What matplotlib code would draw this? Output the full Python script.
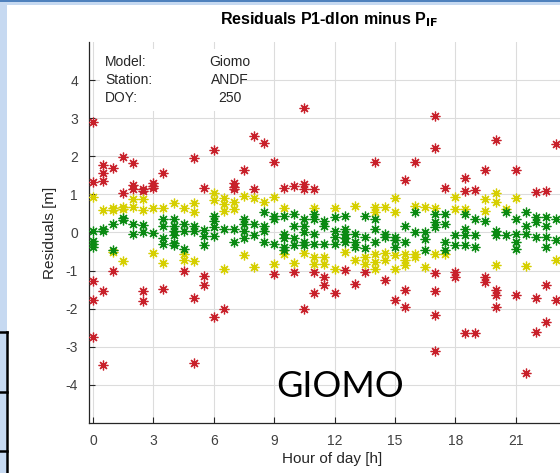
import matplotlib
matplotlib.use("Agg")
import matplotlib.pyplot as plt
from matplotlib.patches import Rectangle
from matplotlib.lines import Line2D

# ---------------- data (hour of day, residual in m) ----------------
red_hours = [0, 0, 0, 0, 0,
             0.5, 0.5, 0.5, 0.5, 0.5,
             1.0, 1.0, 1.5, 1.5,
             2.0, 2.0, 2.0, 2.5, 2.5, 2.5, 2.5,
             3.0, 3.0, 3.0, 3.5, 3.5, 4.5,
             5.0, 5.0, 5.0, 5.5, 5.5, 5.5,
             6.0, 6.0, 6.5, 7.0, 7.0, 7.0, 7.5, 8.0, 8.0, 8.5,
             9.0, 9.0, 9.5, 10.0, 10.0,
             10.5, 10.5, 10.5, 10.5, 11.0, 11.0, 11.0, 11.5, 11.5,
             12.0, 12.5, 13.0, 13.5, 14.0, 14.5,
             15.0, 15.5, 15.5, 15.5, 16.0,
             17.0, 17.0, 17.0, 17.0, 17.0, 17.0, 17.5,
             18.0, 18.0, 18.5, 18.5, 18.5, 19.0, 19.0,
             19.5, 19.5, 19.5, 20.0, 20.0, 20.0, 20.0,
             21.0, 21.0, 21.5, 22.0, 22.0, 22.0, 22.5, 22.5, 22.5,
             23.0, 23.0]
red_vals = [2.9, 1.33, -1.26, -1.78, -2.73,
            1.77, 1.56, 1.36, -1.53, -3.49,
            1.7, -1.01, 1.97, 1.04,
            1.82, 1.25, 1.14, 1.14, 1.08, -1.53, -1.81,
            1.31, 1.23, 1.17, 1.56, -1.47, -1.01,
            1.95, -1.71, -3.43, 1.16, -1.15, -1.38,
            2.17, -2.21, -2.01, 1.31, 1.2, 1.14, 1.64, 2.53, 1.14, 2.34,
            1.84, -1.1, 1.16, 1.21, -1.04,
            3.27, 1.27, 1.14, -2.02, 1.14, -1.04, -1.6, -1.17, -1.38,
            -1.6, -0.99, -1.34, -1.04, 1.84, -1.24,
            -1.78, 1.38, -1.5, -1.95, 1.84,
            3.05, 2.23, -1.06, -1.53, -2.17, -3.1, 1.16,
            -1.04, -1.18, 1.44, 1.08, -2.65, 1.11, -2.65,
            1.64, -1.17, -1.3, 2.42, -1.5, -1.64, -1.96,
            1.64, -1.65, -3.68, 1.05, -1.71, -2.6, 1.08, -1.38, -2.35,
            2.32, -1.78]

yellow_hours = [0, 0.5, 1.0, 1.0, 1.0, 1.5, 1.5, 1.5, 2.0, 2.0, 2.5, 2.5,
                3.0, 3.0, 3.5, 3.5, 4.0, 4.5, 4.5, 4.5, 5.0, 5.0, 5.0,
                6.0, 6.0, 6.5, 6.5, 6.5, 6.5, 7.0, 7.0, 7.5, 7.5, 8.0, 8.0, 8.5,
                9.0, 9.0, 9.5, 9.5, 10.0, 10.5, 11.0, 11.0, 11.0, 11.5, 11.5,
                12.0, 12.0, 12.5, 13.0, 13.0, 13.5, 13.5,
                14.0, 14.0, 14.0, 14.0, 14.0, 14.5, 14.5, 14.5,
                15.0, 15.0, 15.0, 15.0, 15.5, 15.5, 15.5, 16.0, 16.0, 16.0,
                16.5, 16.5, 17.0, 17.0, 17.5, 18.0, 18.0, 18.5,
                19.5, 19.5, 20.0, 20.0, 20.0, 20.5, 21.0, 21.5, 23.0]
yellow_vals = [0.92, 0.59, 0.64, 0.6, -0.51, 0.68, 0.62, -0.75, 0.88, 0.66, 0.89, 0.59,
               0.64, -0.54, 0.64, -0.80, 0.77, 0.64, -0.57, -0.71, 0.77, 0.55, -0.75,
               1.04, 0.85, 0.9, 0.75, 0.57, -0.97, 0.79, 0.62, 0.95, -0.60, 0.9, -0.91, 0.81,
               0.94, -0.82, 0.64, -0.57, -0.8, -0.54, 0.65, -0.64, -0.82, -0.64, -0.82,
               0.65, -0.95, -0.51, 0.7, -0.73, -0.64, -0.82,
               0.68, 0.55, -0.56, -0.78, -0.95, 0.68, -0.53, -0.73,
               0.9, 0.55, -0.6, -0.95, -0.56, -0.73, -0.85, 0.7, -0.56, -0.64,
               0.66, -0.91, 0.64, -0.57, -0.56, 0.92, 0.62, 0.62,
               0.88, 0.57, 1.03, 0.79, -0.84, 0.62, 0.9, -0.88, -0.73]

green_hours = [0, 0, 0, 0, 0.5, 0.5, 1.0, 1.0, 1.5, 1.5, 2.0, 2.0, 2.5, 2.5,
               3.0, 3.5, 3.5, 3.5, 3.5, 4.0, 4.0, 4.0, 4.0, 4.0, 4.0,
               4.5, 4.5, 4.5, 5.0, 5.0, 5.5, 5.5, 5.5,
               6.0, 6.0, 6.0, 6.0, 6.5, 7.0, 7.0, 7.5, 7.5, 7.5, 7.5, 8.0, 8.0,
               8.5, 8.5, 8.5, 8.5, 9.0, 9.0, 9.0, 9.5, 9.5, 9.5, 9.5, 9.5,
               10.0, 10.0, 10.0, 10.0, 10.5, 10.5, 10.5, 10.5, 10.5,
               11.0, 11.0, 11.0, 11.0, 11.5, 11.5, 11.5,
               12.0, 12.0, 12.0, 12.0, 12.5, 12.5, 12.5, 12.5, 12.5,
               13.0, 13.0, 13.0, 13.5, 13.5, 13.5, 14.0, 14.0, 14.0, 14.5, 14.5,
               15.0, 15.0, 15.0, 15.5, 15.5, 16.0, 16.0, 16.5, 16.5, 16.5,
               17.0, 17.0, 17.0, 17.5, 17.5, 17.5, 17.5, 18.0, 18.0,
               18.5, 18.5, 18.5, 18.5, 19.0, 19.0, 19.0, 19.5, 20.0, 20.0,
               20.5, 20.5, 21.0, 21.0, 21.0, 21.0, 21.5, 21.5, 21.5,
               22.0, 22.0, 22.0, 22.5, 22.5, 22.5, 22.5, 23.0, 23.0]
green_vals = [0.03, -0.23, -0.30, -0.38, 0.08, 0.03, 0.23, -0.47, 0.38, 0.33, 0.23, -0.05, 0.19, 0.0,
              -0.01, 0.36, 0.18, -0.14, -0.31, 0.36, 0.16, 0.05, -0.06, -0.28, -0.34,
              0.23, 0.03, -0.44, 0.16, 0.05, 0.07, -0.08, -0.34,
              0.44, 0.31, 0.14, -0.1, 0.1, 0.1, -0.25, 0.36, 0.21, 0.03, -0.14, 0.23, -0.06,
              0.53, 0.18, 0.03, -0.25, 0.44, 0.36, -0.31, 0.44, -0.03, -0.14, -0.38, -0.47,
              0.49, 0.18, -0.14, -0.34, 0.36, 0.18, 0.01, -0.25, -0.34,
              0.49, 0.36, -0.03, -0.29, 0.31, 0.18, -0.31,
              0.4, 0.05, -0.12, -0.3, 0.44, 0.1, -0.03, -0.14, -0.25,
              -0.03, -0.25, -0.38, 0.42, -0.12, -0.4, 0.36, 0.1, -0.25, -0.03, -0.12,
              -0.12, -0.2, -0.38, 0.18, -0.25, 0.53, 0.0, 0.0, -0.17, -0.47,
              0.49, 0.27, 0.14, 0.49, 0.23, -0.25, -0.47, -0.07, -0.33,
              0.49, 0.1, -0.07, -0.33, 0.36, -0.07, -0.38, 0.31, 0.05, -0.07,
              0.53, -0.07, 0.36, -0.03, -0.25, -0.42, 0.53, 0.18, -0.03,
              0.4, 0.27, -0.12, 0.4, 0.18, -0.12, -0.38, 0.36, -0.2]

x_ticks = [0, 3, 6, 9, 12, 15, 18, 21]
y_ticks = [-4, -3, -2, -1, 0, 1, 2, 3, 4]
info_labels = ["Model:", "Station:", "DOY:"]
info_values = ["Giomo", "ANDF", "250"]

# ---------------- figure ----------------
W, H = 560, 473
fig = plt.figure(figsize=(W / 100, H / 100), dpi=100)
fig.patch.set_facecolor("white")

# screenshot decoration (slide frame)
fig.add_artist(Rectangle((0, 0), 7 / W, 1, transform=fig.transFigure,
                         facecolor="#c6d9f1", edgecolor="none", zorder=0))
fig.add_artist(Rectangle((0, 1 - 5 / H), 1, 5 / H, transform=fig.transFigure,
                         facecolor="#c6d9f1", edgecolor="none", zorder=0))
fig.add_artist(Rectangle((0, 1 - 2.5 / H), 1, 2.5 / H, transform=fig.transFigure,
                         facecolor="#4f81bd", edgecolor="none", zorder=0))
fig.add_artist(Line2D([7 / W, 7 / W], [0, 1 - 332 / H], transform=fig.transFigure,
                      color="black", lw=1.8))
for yy in (332, 392, 451):
    fig.add_artist(Line2D([0, 7 / W], [1 - yy / H, 1 - yy / H], transform=fig.transFigure,
                          color="black", lw=1.8))

left, right, top, bottom = 89, 576, 42, 423
ax = fig.add_axes([left / W, 1 - bottom / H, (right - left) / W, (bottom - top) / H])
ax.set_xlim(-0.2, 24)
ax.set_ylim(-5, 5)

mk = dict(marker=(8, 2, 0), linestyle="none", markersize=7, markeredgewidth=0.9, zorder=3)
ax.plot(red_hours, red_vals, color="#c8202a", **mk)
ax.plot(yellow_hours, yellow_vals, color="#d6cf00", **mk)
ax.plot(green_hours, green_vals, color="#0a8a12", **mk)

font = "Liberation Sans"
ax.set_xticks(x_ticks)
ax.set_yticks(y_ticks)
ax.set_xticklabels([str(t) for t in x_ticks], fontsize=10, family=font, color="#404040")
ax.set_yticklabels([str(t) for t in y_ticks], fontsize=10, family=font, color="#404040")
ax.tick_params(direction="in", length=4, width=0.8, color="#262626", pad=8)
ax.grid(True, color="#dcdcdc", linewidth=0.8)
ax.set_axisbelow(True)
for s in ("top", "right"):
    ax.spines[s].set_visible(False)
for s in ("left", "bottom"):
    ax.spines[s].set_color("#262626")
    ax.spines[s].set_linewidth(0.9)

ax.set_xlabel("Hour of day [h]", fontsize=11, family=font, color="#262626", labelpad=3)
ax.set_ylabel("Residuals [m]", fontsize=11, family=font, color="#262626", labelpad=6)
fig.text(329 / W, 1 - 20 / H, r"Residuals P1-dlon minus P$_{\mathbf{IF}}$",
         ha="center", va="center", fontsize=11.5, fontweight="bold", family=font, color="black")

# info box
ax.add_patch(Rectangle((0.35, 3.2), 7.0, 1.62, facecolor="white", edgecolor="none", zorder=2))
for i, (lab, val) in enumerate(zip(info_labels, info_values)):
    yv = 4.47 - i * 0.47
    ax.text(0.6, yv, lab, fontsize=10, family=font, color="#262626", va="center", ha="left", zorder=4)
    ax.text(6.8, yv, val, fontsize=10, family=font, color="#262626", va="center", ha="center", zorder=4)

fig.text(340 / W, 1 - 386 / H, "GIOMO", fontsize=26, family="Lato", color="black",
         ha="center", va="center")

fig.savefig("out.png", dpi=100)
